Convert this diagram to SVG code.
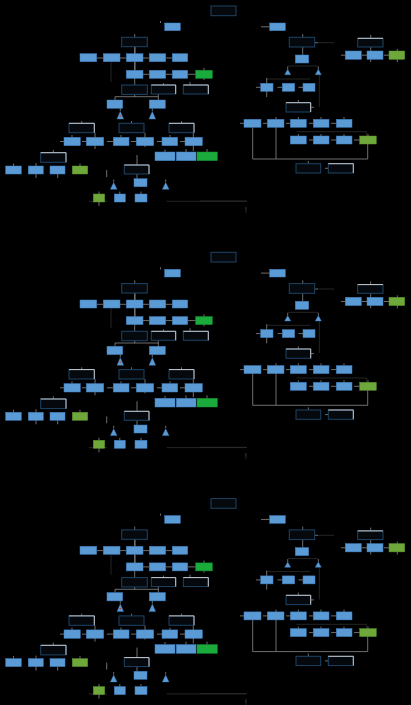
<svg xmlns="http://www.w3.org/2000/svg" xmlns:xlink="http://www.w3.org/1999/xlink" width="411" height="705" viewBox="0 0 411 705">
<style>
.b{fill:#5b9bd5;stroke:#3f7fc0;stroke-width:0.5}
.g{fill:#1aab3c;stroke:#14902f;stroke-width:0.5}
.o{fill:#6fa83a;stroke:#5a8f2c;stroke-width:0.5}
.d{fill:#05090d;stroke:#1d4466;stroke-width:1}
.w{fill:#05090d;stroke:#1d4466;stroke-width:1}
.wt{fill:none;stroke:#c8ccd0;stroke-width:1}
.c{fill:none;stroke:#8a8a8a;stroke-width:0.8}
.k{fill:none;stroke:#2e2e2e;stroke-width:0.8}
.t{fill:#5b9bd5;stroke:#3f7fc0;stroke-width:0.4}
</style>
<defs>
<g id="copy">
<g id="connectors">
<path class="c" d="M134.7 34V97M115 96.7H158.3M115 96.7V100M158.3 94V108M135 47V53.7M120 58H126.3M143 58H149.3M165.7 58H172.3M96.7 58H103.3M111.7 58H107M135 62V70.3M143 74.3H149.3M165.7 74.3H172.3M187.7 74.3H195.7M204 68V80M163.5 83V85M190 82V85"/>
<path class="k" d="M111 62V82"/>
<path class="c" d="M120.3 108.3V111M152.3 108.3V111M81.7 121V123.3M131.5 121V123.3M181.5 121V123.3M72 135V137.3M95 132.7V149M121 135V137.3M145 132.7V147M170 135V137.3M193.3 132V151M53.3 150V152.7M165 149.5V152M186 149V152M207 149V152M36 163V178M57.7 174V178M13.5 163.5V166M80 163.5V166M60 141.5H64M82 141.5H86.3M107 141.5H113.3M131 141.5H136.3M157 141.5H162M180 141.5H185"/>
<path class="c" d="M137 155V165M137 174V178.7M106.7 170V177M113.7 179.5V182M165.7 179.5V182M99 191.5V206M119.8 191.5V194M141 191.5V194M128 168H124.3"/>
<path class="k" d="M89 201.3H107M166.7 201.3H246.7M245.7 206.7V210"/>
<path class="c" d="M160.5 21V23M261 26.8H269.7M302.7 34V55M315 42.7H318M370.7 35V62M397.3 49V62M341 55.2H345.3M362 55.2H367M384 55.2H389"/>
<path class="k" d="M318 42.7H334M288 66H318M266.7 79H310M319.3 75V107M296.7 131.7H366.7V136"/>
<path class="c" d="M287.7 66.5V69.3M318.3 66.5V69.3M266.7 78V97M256 87.3H260.7M277.5 87.3H282.3M298.5 87.3H303M298.3 100V102.7M311 107.3H314"/>
<path class="c" d="M240 123.3H244M263 123.3H267.3M286 123.3H290.3M309 123.3H313.3M331 123.3H336.3M298.3 117V119.3M321 117V119.3M344 117V119.3M298.3 134V136M321 134V136M344 134V136M368 134V136M309 140H313.3M331 140H336.3M354 140H359.7"/>
<path class="c" d="M252.7 127.3V159H367.7V144M276 117V159M308.3 161V163.7M325 168.3H328.3"/>
<path class="k" d="M200 201H246.7M246 207V213"/>
</g>
<g id="n-title"><rect class="d" x="211" y="6" width="25" height="9.7"/></g>
<g id="n-hl"><rect class="b" x="164.7" y="23" width="15.6" height="7.7"/></g>
<g id="n-hr"><rect class="b" x="269.7" y="23" width="15.6" height="7.7"/></g>
<g id="n-d1"><rect class="d" x="121.7" y="37.3" width="25.6" height="9.4"/></g>
<g id="n-b1"><rect class="b" x="80" y="53.7" width="16.7" height="8"/></g>
<g id="n-b2"><rect class="b" x="103.3" y="53.7" width="16.7" height="8"/></g>
<g id="n-b3"><rect class="b" x="126.3" y="53.7" width="16.7" height="8"/></g>
<g id="n-b4"><rect class="b" x="149.3" y="53.7" width="16.4" height="8"/></g>
<g id="n-b5"><rect class="b" x="172.3" y="53.7" width="15.4" height="8"/></g>
<g id="n-b6"><rect class="b" x="126.3" y="70.3" width="16.7" height="8"/></g>
<g id="n-b7"><rect class="b" x="149.3" y="70.3" width="16.4" height="8"/></g>
<g id="n-b8"><rect class="b" x="172.3" y="70.3" width="15.4" height="8"/></g>
<g id="n-g1"><rect class="g" x="195.7" y="70.3" width="16.6" height="8"/></g>
<g id="n-d2"><rect class="d" x="121.7" y="85" width="25.6" height="9.4"/></g>
<g id="n-w1"><rect class="w" x="151.3" y="85" width="24.4" height="9"/><path class="wt" d="M151.3 85H175.7V94"/></g>
<g id="n-w2"><rect class="w" x="183.3" y="85" width="25" height="9"/><path class="wt" d="M183.3 85H208.3V94"/></g>
<g id="n-b9"><rect class="b" x="107" y="100" width="15.7" height="8.3"/></g>
<g id="n-b10"><rect class="b" x="149.3" y="100" width="16" height="8.3"/></g>
<g id="n-t1"><path class="t" d="M120.3 111.5L123.6 119H117Z"/><circle cx="120.3" cy="116" r="0.8" fill="#c0392b"/></g>
<g id="n-t2"><path class="t" d="M152.3 111.5L155.6 119H149Z"/></g>
<g id="n-w3"><rect class="w" x="69" y="123.3" width="25.3" height="9.4"/><path class="wt" d="M69 123.3H94.3V132.7"/></g>
<g id="n-w4"><rect class="d" x="119" y="123.3" width="25" height="9.4"/></g>
<g id="n-w5"><rect class="w" x="169" y="123.3" width="25" height="9.4"/><path class="wt" d="M169 123.3H194V132.7"/></g>
<g id="n-b11"><rect class="b" x="64" y="137.3" width="16.3" height="8.4"/></g>
<g id="n-b12"><rect class="b" x="86.3" y="137.3" width="17.4" height="8.4"/></g>
<g id="n-b13"><rect class="b" x="113.3" y="137.3" width="15.7" height="8.4"/></g>
<g id="n-b14"><rect class="b" x="136.3" y="137.3" width="17.4" height="8.4"/></g>
<g id="n-b15"><rect class="b" x="162" y="137.3" width="15.7" height="8.4"/></g>
<g id="n-b16"><rect class="b" x="185" y="137.3" width="17.3" height="8.4"/></g>
<g id="n-w6"><rect class="w" x="40.7" y="152.7" width="25.3" height="9.6"/><path class="wt" d="M40.7 152.7H66V162.3"/></g>
<g id="n-b17"><rect class="b" x="155" y="152" width="20" height="8.7"/></g>
<g id="n-b18"><rect class="b" x="176.3" y="152" width="19.7" height="8.7"/></g>
<g id="n-g2"><rect class="g" x="197" y="152" width="20.3" height="8.7"/></g>
<g id="n-b19"><rect class="b" x="5.7" y="166" width="15.6" height="8"/></g>
<g id="n-b20"><rect class="b" x="28.3" y="166" width="15" height="8"/></g>
<g id="n-b21"><rect class="b" x="50" y="166" width="15" height="8"/></g>
<g id="n-o1"><rect class="o" x="72.3" y="166" width="15.4" height="8"/></g>
<g id="n-w7"><rect class="w" x="124.3" y="165" width="24.7" height="9"/><path class="wt" d="M124.3 165H149V174"/></g>
<g id="n-b22"><rect class="b" x="134" y="178.7" width="13" height="8"/></g>
<g id="n-t3"><path class="t" d="M113.7 182.5L117 189.3H110.4Z"/></g>
<g id="n-t4"><path class="t" d="M165.7 182.5L169 189.3H162.4Z"/></g>
<g id="n-o2"><rect class="o" x="93.3" y="194" width="11.4" height="8"/></g>
<g id="n-b23"><rect class="b" x="114.3" y="194" width="11" height="8"/></g>
<g id="n-b24"><rect class="b" x="135" y="194" width="12" height="8"/></g>
<g id="n-d3"><rect class="d" x="289.3" y="37.3" width="25.4" height="9.7"/></g>
<g id="n-w8"><rect class="w" x="357.7" y="38.3" width="25.3" height="8.7"/><path class="wt" d="M357.7 38.3H383"/></g>
<g id="n-b25"><rect class="b" x="295.3" y="55" width="13.4" height="8"/></g>
<g id="n-b26"><rect class="b" x="345.3" y="51" width="16" height="8.3"/></g>
<g id="n-b27"><rect class="b" x="367" y="51" width="16" height="8.3"/></g>
<g id="n-o3"><rect class="o" x="389" y="51" width="15.7" height="8.3"/></g>
<g id="n-t5"><path class="t" d="M287.7 69.3L290.7 74.7H284.7Z"/></g>
<g id="n-t6"><path class="t" d="M318.3 69.3L321.3 74.7H315.3Z"/></g>
<g id="n-b28"><rect class="b" x="260.7" y="83.3" width="12.3" height="8"/></g>
<g id="n-b29"><rect class="b" x="282.3" y="83.3" width="12.4" height="8"/></g>
<g id="n-b30"><rect class="b" x="303" y="83.3" width="12" height="8"/></g>
<g id="n-w9"><rect class="w" x="286" y="102.7" width="24.7" height="9.3"/><path class="wt" d="M286 102.7H310.7V112"/></g>
<g id="n-b31"><rect class="b" x="244" y="119.3" width="17" height="8"/></g>
<g id="n-b32"><rect class="b" x="267.3" y="119.3" width="16.7" height="8"/></g>
<g id="n-b33"><rect class="b" x="290.3" y="119.3" width="16" height="8"/></g>
<g id="n-b34"><rect class="b" x="313.3" y="119.3" width="15.7" height="8"/></g>
<g id="n-b35"><rect class="b" x="336.3" y="119.3" width="15.7" height="8"/></g>
<g id="n-b36"><rect class="b" x="290.3" y="136" width="16" height="8"/></g>
<g id="n-b37"><rect class="b" x="313.3" y="136" width="15.7" height="8"/></g>
<g id="n-b38"><rect class="b" x="336.3" y="136" width="15.7" height="8"/></g>
<g id="n-o4"><rect class="o" x="359.7" y="136" width="16.6" height="8"/></g>
<g id="n-d4"><rect class="d" x="296" y="163.7" width="24.7" height="9.3"/></g>
<g id="n-w10"><rect class="w" x="328.3" y="163.7" width="25" height="9.3"/><path class="wt" d="M328.3 163.7H353.3V173"/></g>
</g>
</defs>
<rect width="411" height="705" fill="#000"/>
<use href="#copy" xlink:href="#copy"/>
<use href="#copy" xlink:href="#copy" y="246.3"/>
<use href="#copy" xlink:href="#copy" y="492.6"/>
</svg>
